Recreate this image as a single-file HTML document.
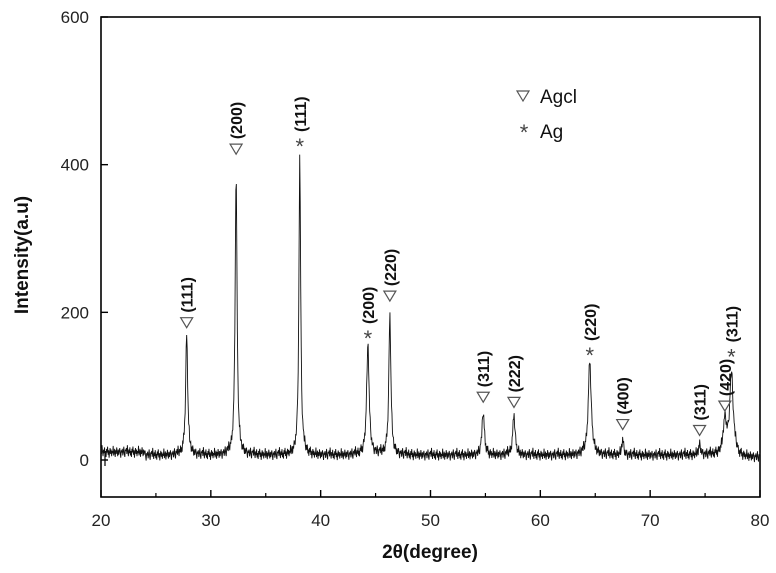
<!DOCTYPE html>
<html><head><meta charset="utf-8">
<style>
html,body{margin:0;padding:0;background:#fff;}
svg{display:block;font-family:"Liberation Sans",Arial,sans-serif;}
</style></head>
<body>
<svg id="chart" width="776" height="573" viewBox="0 0 776 573">
<g id="plot"></g>
</svg>
<script>
// Peak data (2θ, intensity above baseline, half-width in degrees)
const peakPos = [27.8, 32.3, 38.1, 44.3, 46.3, 54.8, 57.6, 64.5, 67.5, 74.5, 76.8, 77.4];
const peakInt = [165, 385, 405, 150, 190, 58, 55, 128, 22, 14, 45, 110];
const peakWid = [0.14, 0.13, 0.12, 0.17, 0.14, 0.16, 0.16, 0.2, 0.12, 0.14, 0.22, 0.24];
const peakPhase = ["AgCl","AgCl","Ag","Ag","AgCl","AgCl","AgCl","Ag","AgCl","AgCl","AgCl","Ag"];
const peakHkl = ["(111)","(200)","(111)","(200)","(220)","(311)","(222)","(220)","(400)","(311)","(420)","(311)"];
// marker/label heights (intensity units)
const markerVal = [186, 421, 428, 168, 222, 85, 78, 145, 48, 40, 73, 143];
// baseline noise samples (hand-read jitter)
const noise = [14,6,18,9,3,12,7,15,4,10,2,13,8,16,5,11,1,9,14,6,12,3,10,7,17,4,8,13,2,11,6,15,9,3,12,5,10,14,7,1,11,8,13,4,9,16,6,2,12,10];
const xTicks = [20,30,40,50,60,70,80];
const yTicks = [0,200,400,600];

const NS = "http://www.w3.org/2000/svg";
const L=101,R=760,T=17,B=497;
function xs(v){return L+(v-20)/60*(R-L);}
function ys(v){return 460-(v)*(460-T)/600;}
const g=document.getElementById('plot');
function mk(tag,attrs,parent){const e=document.createElementNS(NS,tag);for(const k in attrs)e.setAttribute(k,attrs[k]);(parent||g).appendChild(e);return e;}

let fr=mk('rect',{x:L,y:T,width:R-L,height:B-T,fill:'none',stroke:'#000','stroke-width':1.6});



xTicks.forEach(v=>{
  let t=mk('line',{x1:xs(v),x2:xs(v),y1:B,y2:B-7,stroke:'#000','stroke-width':1.4});
  
  
  if(v<80){let m=mk('line',{x1:xs(v+5),x2:xs(v+5),y1:B,y2:B-4,stroke:'#000','stroke-width':1.2});
  
  }
  let tx=mk('text',{x:xs(v),y:526,'text-anchor':'middle','font-size':17,fill:'#222'});
  tx.textContent=v;
  
  
});
yTicks.forEach(v=>{
  let t=mk('line',{x1:L,x2:L+7,y1:ys(v),y2:ys(v),stroke:'#000','stroke-width':1.4});
  
  
  let tx=mk('text',{x:89,y:ys(v)+6,'text-anchor':'end','font-size':17,fill:'#222'});
  tx.textContent=v;
  
  
});
let z=mk('line',{x1:L+4,x2:L+4,y1:ys(0)-6,y2:ys(0)+6,stroke:'#000','stroke-width':1.2});



let d='';
const N=1300;
for(let i=0;i<=N;i++){
  const x=20+60*i/N;
  let y=noise[i%noise.length]-2+(x<24?4:0)-(x>78?3:0);
  for(let k=0;k<peakPos.length;k++){
    const u=(x-peakPos[k])/peakWid[k];
    y+=peakInt[k]/(1+u*u*1.6);
  }
  d+=(i?'L':'M')+xs(x).toFixed(2)+' '+ys(y).toFixed(2);
}
let p=mk('path',{d:d,fill:'none',stroke:'#111','stroke-width':0.9});



function tri(cx,cy,name){
  let t=mk('path',{d:`M${cx-6} ${cy-5}L${cx+6} ${cy-5}L${cx} ${cy+5}Z`,fill:'none',stroke:'#555','stroke-width':1.2});
  
  
}
function star(cx,cy,name){
  let t=mk('text',{x:cx,y:cy+10,'text-anchor':'middle','font-size':22,fill:'#444'});
  t.textContent='*';
  
  
}
peakPos.forEach((v,k)=>{
  const cx=xs(v), cy=ys(markerVal[k]);
  if(peakPhase[k]==='Ag') star(cx,cy,'ag-marker'); else tri(cx,cy,'agcl-marker');
  const ty=cy-(peakPhase[k]==='Ag'?12:10);
  let tx=mk('text',{x:cx+6,y:ty,'text-anchor':'start','font-size':16,'font-weight':'bold',fill:'#111',transform:`rotate(-90 ${cx+6} ${ty})`});
  tx.textContent=peakHkl[k];
  
  
});

tri(523,96,'legend-agcl-symbol');
let l1=mk('text',{x:540,y:103,'font-size':19,fill:'#111'});l1.textContent='Agcl';


star(524,130,'legend-ag-symbol');
let l2=mk('text',{x:540,y:138,'font-size':19,fill:'#111'});l2.textContent='Ag';



let xt=mk('text',{x:430,y:558,'text-anchor':'middle','font-size':19,'font-weight':'bold',fill:'#111'});
xt.textContent='2θ(degree)';


let yt=mk('text',{x:28,y:255,'text-anchor':'middle','font-size':19,'font-weight':'bold',fill:'#111',transform:'rotate(-90 28 255)'});
yt.textContent='Intensity(a.u)';


</script>
</body></html>
